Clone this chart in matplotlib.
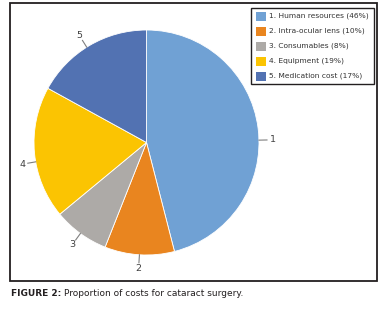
import matplotlib
matplotlib.use("Agg")
import matplotlib.pyplot as plt
from matplotlib.patches import Rectangle
import numpy as np

labels = ["1", "2", "3", "4", "5"]
legend_labels = ["1. Human resources (46%)", "2. Intra-ocular lens (10%)",
                 "3. Consumables (8%)", "4. Equipment (19%)", "5. Medication cost (17%)"]
values = [46, 10, 8, 19, 17]
colors = ["#70A1D4", "#E9851F", "#ADAAA7", "#FBC402", "#5272B2"]
caption_bold = "FIGURE 2:"
caption_text = "Proportion of costs for cataract surgery."

W, H = 388, 314
fig = plt.figure(figsize=(W / 100, H / 100), dpi=100)
ax = fig.add_axes([0, 0, 1, 1])
ax.set_xlim(0, W)
ax.set_ylim(0, H)
ax.set_aspect("equal")
ax.axis("off")

def Y(y):
    return H - y

cx, cy, R = 146.5, Y(142.5), 112.5
wedges, _ = ax.pie(values, colors=colors, startangle=90, counterclock=False,
                   center=(cx, cy), radius=R, frame=True,
                   wedgeprops=dict(edgecolor="white", linewidth=0.6))
ax.set_xlim(0, W)
ax.set_ylim(0, H)
ax.axis("off")

# data labels with leader lines
adj = {0: -6, 3: 4.5, 4: 1.5}
for i, w in enumerate(wedges):
    ang = np.deg2rad((w.theta1 + w.theta2) / 2 + adj.get(i, 0))
    ca, sa = np.cos(ang), np.sin(ang)
    x0, y0 = cx + R * ca, cy + R * sa
    x1, y1 = cx + (R + 8) * ca, cy + (R + 8) * sa
    xt, yt = cx + (R + 13.5) * ca, cy + (R + 13.5) * sa
    ax.plot([x0, x1], [y0, y1], color="#7f7f7f", lw=0.8)
    ax.text(xt, yt, labels[i], ha="center", va="center", fontsize=6.8,
            color="#404040", family="DejaVu Sans")

# outer box
ax.add_patch(Rectangle((10, Y(281)), 367, 278, fill=False, edgecolor="#231f20", lw=1.3))
# legend box
ax.add_patch(Rectangle((251, Y(84)), 123, 76, fill=False, edgecolor="#231f20", lw=1.0))
for i, (lab, c) in enumerate(zip(legend_labels, colors)):
    yy = 16 + i * 15
    ax.add_patch(Rectangle((256, Y(yy + 4.5)), 10, 9, facecolor=c, edgecolor="none"))
    ax.text(269, Y(yy), lab, ha="left", va="center", fontsize=5.4,
            color="#333333", family="DejaVu Sans")

t = ax.text(11, Y(293), caption_bold + " ", ha="left", va="center", fontsize=6.5,
            fontweight="bold", color="#231f20", family="DejaVu Sans")
fig.canvas.draw()
bb = t.get_window_extent()
ax.text(bb.x1, Y(293), caption_text, ha="left", va="center", fontsize=6.5,
        color="#231f20", family="DejaVu Sans")

fig.savefig("out.png", dpi=100)
